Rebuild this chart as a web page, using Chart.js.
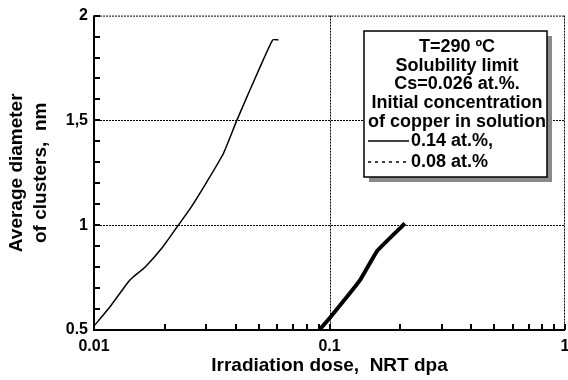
<!DOCTYPE html>
<html>
<head>
<meta charset="utf-8">
<script src="https://cdn.jsdelivr.net/npm/chart.js@4.4.0/dist/chart.umd.min.js"></script>
<style>
  body { margin: 0; background: #fff; }
  canvas { display: block; }
</style>
</head>
<body>
<canvas id="myChart" width="568" height="380"></canvas>
<script>
// data (dose in NRT dpa, diameter in nm)
const doseLow = [0.01, 0.0117, 0.0140, 0.0147, 0.0165, 0.0197, 0.0228, 0.0256, 0.0301, 0.0354, 0.0404, 0.0452, 0.0507, 0.0574, 0.0607];
const diamLow = [0.519, 0.611, 0.730, 0.754, 0.801, 0.900, 1.0, 1.079, 1.206, 1.341, 1.5, 1.627, 1.754, 1.884, 1.884];
const doseHigh = [0.0905, 0.1, 0.1348, 0.1596, 0.209];
const diamHigh = [0.5, 0.556, 0.738, 0.878, 1.008];
const seriesLabels = ['0.14 at.%,', '0.08 at.%'];
const noteLines = ['T=290 ºC', 'Solubility limit', 'Cs=0.026 at.%.', 'Initial concentration', 'of copper in solution'];
const xTickLabels = ['0.01', '0.1', '1'];
const yTickLabels = ['0.5', '1', '1,5', '2'];

const FONT = '"Liberation Sans", Arial, Helvetica, sans-serif';

const toPoints = (xs, ys) => xs.map((x, i) => ({ x: x, y: ys[i] }));

// frame, dotted grid and inward tick marks
const framePlugin = {
    id: 'frame',
    beforeDatasetsDraw(chart) {
        const ctx = chart.ctx;
        const { left, right, top, bottom } = chart.chartArea;
        const xs = chart.scales.x, ys = chart.scales.y;
        ctx.save();
        ctx.strokeStyle = '#000';
        ctx.lineWidth = 1;
        ctx.setLineDash([2, 1]);
        ctx.beginPath();
        ctx.moveTo(left, top + 0.5); ctx.lineTo(right, top + 0.5);
        ctx.moveTo(right - 0.5, top); ctx.lineTo(right - 0.5, bottom);
        [1, 1.5].forEach(v => {
            const y = Math.round(ys.getPixelForValue(v)) + 0.5;
            ctx.moveTo(left, y); ctx.lineTo(right, y);
        });
        const gx = Math.round(xs.getPixelForValue(0.1)) + 0.5;
        ctx.moveTo(gx, top); ctx.lineTo(gx, bottom);
        ctx.stroke();
        ctx.setLineDash([]);
        ctx.lineWidth = 2;
        ctx.beginPath();
        ys.ticks.forEach(t => {
            const y = Math.round(ys.getPixelForValue(t.value));
            ctx.moveTo(left, y); ctx.lineTo(left + 6, y);
        });
        xs.ticks.forEach(t => {
            const x = Math.round(xs.getPixelForValue(t.value));
            ctx.moveTo(x, bottom); ctx.lineTo(x, bottom - 6);
        });
        ctx.moveTo(left, top); ctx.lineTo(left, bottom);
        ctx.lineTo(right, bottom);
        ctx.stroke();
        ctx.restore();
    }
};

// note box with the legend entries
const notePlugin = {
    id: 'note',
    afterDraw(chart) {
        const ctx = chart.ctx;
        const bx = 364, by = 31, bw = 183, bh = 146;
        ctx.save();
        ctx.fillStyle = '#8a8a8a';
        ctx.fillRect(bx + 5, by + 5, bw, bh);
        ctx.fillStyle = '#fff';
        ctx.fillRect(bx, by, bw, bh);
        ctx.strokeStyle = '#000';
        ctx.lineWidth = 1.5;
        ctx.strokeRect(bx, by, bw, bh);
        ctx.fillStyle = '#000';
        ctx.font = 'bold 18px ' + FONT;
        ctx.textAlign = 'center';
        ctx.textBaseline = 'middle';
        noteLines.forEach((s, i) => ctx.fillText(s, 457, 47 + i * 18.7));
        ctx.textAlign = 'left';
        chart.data.datasets.forEach((d, i) => {
            const y = 141 + i * 21;
            ctx.lineWidth = 1.3;
            ctx.setLineDash(i === 0 ? [] : [3, 4]);
            ctx.beginPath();
            ctx.moveTo(368, y); ctx.lineTo(409, y);
            ctx.stroke();
            ctx.fillText(d.label, 411, y);
        });
        ctx.restore();
    }
};

const ctx = document.getElementById('myChart').getContext('2d');
const myChart = new Chart(ctx, {
    type: 'line',
    data: {
        datasets: [{
            label: seriesLabels[0],
            data: toPoints(doseLow, diamLow),
            borderColor: '#000',
            borderWidth: 1.5,
            pointRadius: 0,
            tension: 0.15,
            fill: false
        }, {
            label: seriesLabels[1],
            data: toPoints(doseHigh, diamHigh),
            borderColor: '#000',
            borderWidth: 4,
            pointRadius: 0,
            tension: 0.1,
            fill: false
        }]
    },
    options: {
        responsive: false,
        animation: false,
        devicePixelRatio: 1,
        layout: { padding: { left: 4, top: 15, right: 3, bottom: 0 } },
        plugins: {
            legend: { display: false },
            tooltip: { enabled: false }
        },
        scales: {
            x: {
                type: 'logarithmic',
                min: 0.01,
                max: 1,
                grid: { display: false, drawTicks: false },
                border: { display: false },
                afterBuildTicks: scale => {
                    const t = [];
                    [0.01, 0.1].forEach(d => {
                        for (let k = 1; k < 10; k++) t.push({ value: +(k * d).toFixed(3) });
                    });
                    t.push({ value: 1 });
                    scale.ticks = t;
                },
                afterFit: scale => {
                    scale.height = 50;
                    scale.paddingLeft = 0;
                    scale.paddingRight = 0;
                },
                ticks: {
                    autoSkip: false,
                    maxRotation: 0,
                    padding: 7,
                    color: '#000',
                    font: { family: FONT, size: 16, weight: 'bold' },
                    callback: v => {
                        const s = String(v);
                        return xTickLabels.includes(s) ? s : '';
                    }
                },
                title: {
                    display: true,
                    text: 'Irradiation dose,  NRT dpa',
                    color: '#000',
                    font: { family: FONT, size: 19, weight: 'bold', lineHeight: 1.2 },
                    padding: { top: 0, bottom: 3 }
                }
            },
            y: {
                min: 0.5,
                max: 2,
                grid: { display: false, drawTicks: false },
                border: { display: false },
                ticks: {
                    stepSize: 0.1,
                    autoSkip: false,
                    padding: 6,
                    color: '#000',
                    font: { family: FONT, size: 16, weight: 'bold' },
                    callback: v => {
                        const r = Math.round(v * 10) / 10;
                        const s = r === 1.5 ? '1,5' : (r === 0.5 ? '0.5' : String(r));
                        return yTickLabels.includes(s) ? s : '';
                    }
                },
                afterFit: scale => { scale.width = 90; },
                title: {
                    display: true,
                    text: ['Average diameter', 'of clusters,  nm'],
                    color: '#000',
                    font: { family: FONT, size: 19, weight: 'bold', lineHeight: 1.25 },
                    padding: { top: 1, bottom: 0 }
                }
            }
        }
    },
    plugins: [framePlugin, notePlugin]
});
</script>
</body>
</html>
